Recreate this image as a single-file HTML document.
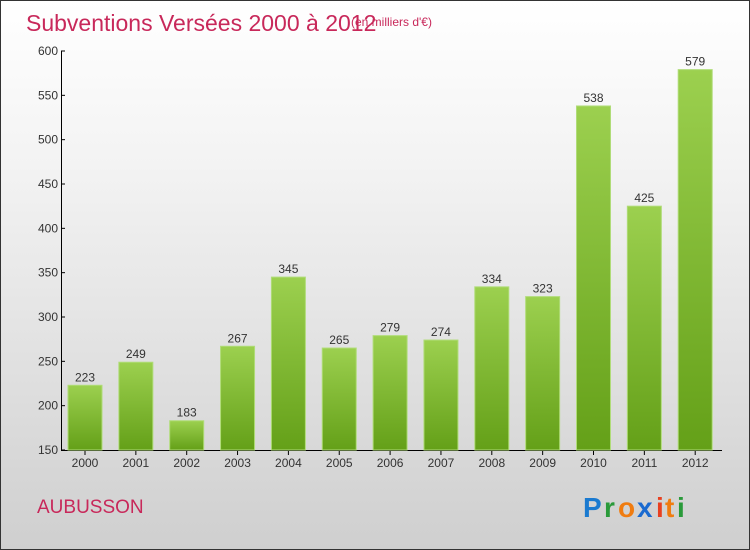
<!DOCTYPE html>
<html><head><meta charset="utf-8"><style>
body{margin:0}
#c{width:748px;height:548px;border:1px solid #333;position:relative;background:linear-gradient(#fff,#f3f3f3 30%,#cfcfcf);font-family:"Liberation Sans",sans-serif;overflow:hidden}
</style></head><body>
<div id="c">
<svg width="748" height="548">
<defs><linearGradient id="g" x1="0" y1="0" x2="0" y2="1"><stop offset="0" stop-color="#9cd04f"/><stop offset="1" stop-color="#64a018"/></linearGradient></defs>
<text x="25" y="30" font-size="23" fill="#c8285a">Subventions Versées 2000 à 2012</text>
<text x="350" y="25" font-size="12" fill="#c8285a">(en milliers d'€)</text>
<g id="axes"></g><g id="bars"></g>
<text x="36" y="512" font-size="19" fill="#c8285a">AUBUSSON</text>
<g font-size="28" font-weight="bold">
<text x="582" y="516" fill="#1a7ad0">P</text><text x="603" y="516" fill="#2a9a3a">r</text><text x="617" y="516" fill="#f07c10">o</text><text x="636" y="516" fill="#1a6ad0">x</text><text x="655" y="516" fill="#e84020">i</text><text x="664" y="516" fill="#f07c10">t</text><text x="676" y="516" fill="#2a9a3a">i</text></g>
</svg></div>
<script>
const years=["2000","2001","2002","2003","2004","2005","2006","2007","2008","2009","2010","2011","2012"];
const values=[223,249,183,267,345,265,279,274,334,323,538,425,579];
const ticks=[150,200,250,300,350,400,450,500,550,600];
const NS="http://www.w3.org/2000/svg";
const y=v=>449-(v-150)*(449-50)/450;
const x=i=>84+i*50.85;
function mk(t,a,p){const e=document.createElementNS(NS,t);for(const k in a)e.setAttribute(k,a[k]);p.appendChild(e);return e;}
const ax=document.getElementById('axes'),bg=document.getElementById('bars');
let l=mk('line',{x1:60.5,y1:50,x2:60.5,y2:450,stroke:'#000'},ax);


l=mk('line',{x1:60,y1:449.5,x2:721,y2:449.5,stroke:'#000'},ax);


ticks.forEach(t=>{mk('line',{x1:60,y1:y(t),x2:64,y2:y(t),stroke:'#000'},ax);
const e=mk('text',{x:57,y:y(t)+4,'font-size':12,fill:'#333','text-anchor':'end'},ax);e.textContent=t;

});
values.forEach((v,i)=>{const r=mk('rect',{x:x(i)-17,y:y(v),width:34,height:449-y(v),fill:'url(#g)',stroke:'#b0dc78','stroke-width':1},bg);


const t=mk('text',{x:x(i),y:y(v)-4,'font-size':12,fill:'#333','text-anchor':'middle'},bg);t.textContent=v;


mk('line',{x1:x(i),y1:450,x2:x(i),y2:454,stroke:'#000'},ax);
const lb=mk('text',{x:x(i),y:466,'font-size':12,fill:'#333','text-anchor':'middle'},ax);lb.textContent=years[i];

});
</script>
</body></html>
